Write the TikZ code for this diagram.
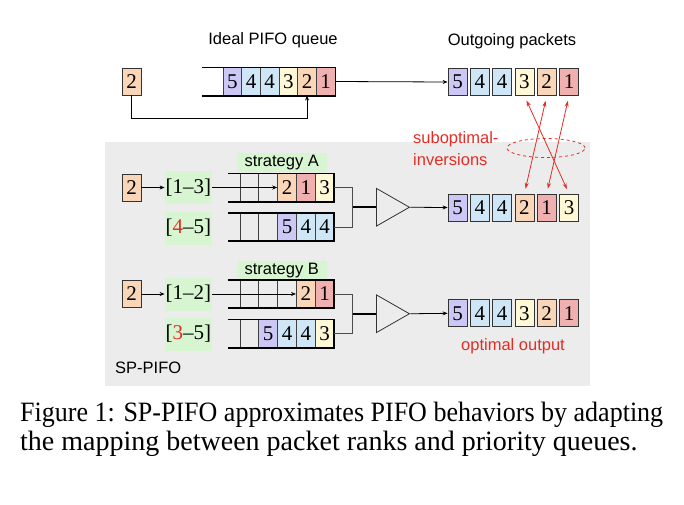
\documentclass[tikz,border=0pt]{standalone}
\usepackage{graphicx}
\usepackage{fontspec}
\setmainfont{Liberation Serif}
\setsansfont{Liberation Sans}
\usetikzlibrary{shapes.geometric, arrows.meta, positioning}
\definecolor{rk1}{RGB}{241,176,176}
\definecolor{rk2}{RGB}{250,214,184}
\definecolor{rk3}{RGB}{255,248,214}
\definecolor{rk4}{RGB}{206,230,246}
\definecolor{rk5}{RGB}{204,200,246}
\definecolor{spbg}{RGB}{236,236,236}
\definecolor{rnggreen}{RGB}{214,245,208}
\definecolor{hl}{RGB}{228,45,38}

\begin{document}
\begin{tikzpicture}[x=1pt, y=-1pt,
  lbl/.style={font=\sffamily\fontsize{16.5}{22}\selectfont},
  num/.style={font=\fontsize{21}{21}\selectfont},
  pkt/.style={rectangle, draw=black!80, line width=0.8pt, num,
              minimum width=19pt, minimum height=27pt, inner sep=0pt},
  cell/.style={rectangle, draw=black!75, line width=0.7pt, num,
               minimum width=18.8pt, minimum height=27.5pt, inner sep=0pt},
  rng/.style={rectangle, fill=rnggreen, num, inner sep=0pt,
              minimum width=47pt, minimum height=33pt},
  qline/.style={line width=1.8pt, line join=miter},
  feed/.style={draw=black!70, line width=0.8pt},
  mux/.style={isosceles triangle, isosceles triangle stretches, draw=black!80,
              line width=0.8pt, minimum width=37.7pt, minimum height=33pt,
              inner sep=0pt, anchor=west},
  a/.style={-{Stealth[length=5pt, width=4pt]}, line width=0.8pt},
  inv/.style={{Stealth[length=6pt, width=4pt]}-{Stealth[length=6pt, width=4pt]},
              draw=hl, line width=0.8pt, shorten <=5pt, shorten >=5pt}]
  \fill[white] (0,0) rectangle (684,504);
  \useasboundingbox (0,0) rectangle (684,504);
  \fill[spbg] (105,142) rectangle (590,386);

  % ideal PIFO
  \node[lbl] (idl) at (273,40) {Ideal PIFO queue};
  \node[lbl] (outl) at (512,41.5) {Outgoing packets};
  \node[pkt, fill=rk2] (in0) at (131.5,81.5) {2};
  \foreach \r [count=\i] in {5,4,4,3,2,1}
    \node[cell, fill=rk\r] (iq\i) at (213.7+\i*18.67,81.5) {\r};
  \draw[qline] ([xshift=-21pt]iq1.north west) -- (iq6.north east)
    -- (iq6.south east) -- ([xshift=-21pt]iq1.south west);
  \foreach \r [count=\i] in {5,4,4,3,2,1}
    \node[pkt, fill=rk\r] (op\i) at (435.2+\i*22.3,82) {\r};
  \draw[a] (in0.south) -- ++(0,23) -| (iq5.south);
  \draw[a] (iq6.east) -- (op1.west);

  % SP-PIFO, strategy A
  \node[rng, lbl, minimum width=90pt, minimum height=19pt] (stA) at (281.7,162.5) {strategy A};
  \node[pkt, fill=rk2] (inA) at (131.5,187.5) {2};
  \node[rng] (rA1) at (188.3,187.5) {[1--3]};
  \node[rng] (rA2) at (188.3,228) {[\textcolor{hl}{4}--5]};
  \foreach \f/\t [count=\i] in {none/{},none/{},rk2/2,rk1/1,rk3/3}
    \node[cell, fill=\f] (qA\i) at (230.6+\i*18.8,187.5) {\t};
  \foreach \f/\t [count=\i] in {none/{},none/{},rk5/5,rk4/4,rk4/4}
    \node[cell, fill=\f] (qa\i) at (230.6+\i*18.8,227) {\t};
  \foreach \q in {qA,qa}
    \draw[qline] ([xshift=-12pt]\q1.north west) -- (\q5.north east)
      -- (\q5.south east) -- ([xshift=-12pt]\q1.south west);
  \draw[a] (inA) -- (rA1);
  \draw[a] (rA1) -- (qA3.west);
  \coordinate (jA) at (352.7,207.25);
  \draw[feed] (qA5.east) -| (jA) |- (qa5.east);
  \node[mux] (muxA) at (376,207.25) {};
  \draw[qline] (jA) -- (muxA.west);
  \foreach \r [count=\i] in {5,4,4,2,1,3}
    \node[pkt, fill=rk\r] (ma\i) at (435.2+\i*22.3,207.5) {\r};
  \draw[a] (muxA.apex) -- (ma1.west);

  % SP-PIFO, strategy B
  \node[rng, lbl, minimum width=90pt, minimum height=19pt] (stB) at (281.7,270.8) {strategy B};
  \node[pkt, fill=rk2] (inB) at (131.5,294) {2};
  \node[rng] (rB1) at (188.3,294) {[1--2]};
  \node[rng] (rB2) at (188.3,334) {[\textcolor{hl}{3}--5]};
  \foreach \f/\t [count=\i] in {none/{},none/{},none/{},rk2/2,rk1/1}
    \node[cell, fill=\f] (qB\i) at (230.6+\i*18.8,294) {\t};
  \foreach \f/\t [count=\i] in {none/{},rk5/5,rk4/4,rk4/4,rk3/3}
    \node[cell, fill=\f] (qb\i) at (230.6+\i*18.8,333.5) {\t};
  \foreach \q in {qB,qb}
    \draw[qline] ([xshift=-12pt]\q1.north west) -- (\q5.north east)
      -- (\q5.south east) -- ([xshift=-12pt]\q1.south west);
  \draw[a] (inB) -- (rB1);
  \draw[a] (rB1) -- (qB4.west);
  \coordinate (jB) at (352.7,313.75);
  \draw[feed] (qB5.east) -| (jB) |- (qb5.east);
  \node[mux] (muxB) at (376,313.75) {};
  \draw[qline] (jB) -- (muxB.west);
  \foreach \r [count=\i] in {5,4,4,3,2,1}
    \node[pkt, fill=rk\r] (mb\i) at (435.2+\i*22.3,313.3) {\r};
  \draw[a] (muxB.apex) -- (mb1.west);

  \node[lbl, inner sep=0pt, anchor=west] (sp) at (115,368) {SP-PIFO};
  \node[lbl, text=hl] (optout) at (513,346.7) {optimal output};

  % inversions
  \node[lbl, text=hl, align=left, anchor=west, inner sep=0pt] (subopt) at (413,149)
    {suboptimal-\\inversions};
  \node[ellipse, draw=hl, dashed, line width=0.8pt, minimum width=78pt,
        minimum height=19pt] (ring) at (546,148) {};
  \draw[inv] (op4.south) -- (ma6.north);
  \draw[inv] (op5.south) -- (ma4.north);
  \draw[inv] (op6.south) -- (ma5.north);

  \node[anchor=north west, align=left, inner sep=0pt,
        font=\fontsize{28}{28.5}\selectfont] (cap) at (20,402)
    {\scalebox{0.929}[1]{Figure 1: SP-PIFO approximates PIFO behaviors by adapting}\\
     the mapping between packet ranks and priority queues.};
\end{tikzpicture}
\end{document}
